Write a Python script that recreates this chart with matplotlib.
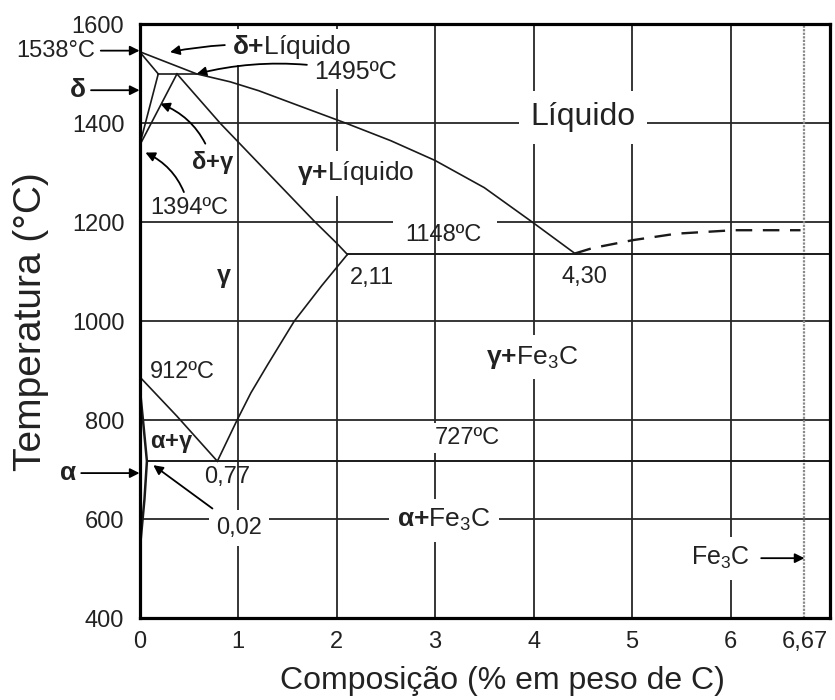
import matplotlib
matplotlib.use('Agg')
import matplotlib.pyplot as plt

plt.rcParams['font.family'] = ['Liberation Sans', 'DejaVu Sans']
plt.rcParams['mathtext.fontset'] = 'custom'
plt.rcParams['mathtext.rm'] = 'Liberation Sans'
plt.rcParams['mathtext.bf'] = 'Liberation Sans:bold'
plt.rcParams['mathtext.it'] = 'Liberation Sans:italic'

# ---------------- data ----------------
liquidus_x = [0.0, 0.58, 0.92, 1.21, 1.60, 2.10, 2.55, 3.00, 3.50, 3.99, 4.42]
liquidus_T = [1545, 1500, 1484, 1466, 1437, 1400, 1365, 1325, 1270, 1200, 1137]
delta_solidus_x = [0.0, 0.19]
delta_solidus_T = [1545, 1500]
peritectic_x = [0.19, 0.58]
peritectic_T = [1500, 1500]
delta_solvus_x = [0.19, 0.0]
delta_solvus_T = [1500, 1355]
gamma_delta_x = [0.38, 0.0]
gamma_delta_T = [1500, 1355]
gamma_solidus_x = [0.38, 0.82, 1.77, 2.00, 2.11]
gamma_solidus_T = [1500, 1400, 1203, 1158, 1135]
acm_x = [2.11, 1.85, 1.57, 1.30, 1.13, 0.99, 0.79]
acm_T = [1135, 1072, 1000, 912, 855, 800, 717]
a3_x = [0.0, 0.38, 0.79]
a3_T = [888, 808, 717]
alpha_x = [0.0, 0.04, 0.075, 0.05, 0.015, 0.0]
alpha_T = [870, 790, 717, 640, 565, 530]
eutectic_x0 = 2.11
eutectic_T = 1135
eutectoid_x0 = 0.075
eutectoid_T = 717
cementite_x = [4.42, 4.60, 5.01, 5.45, 6.03, 6.71]
cementite_T = [1137, 1148, 1164, 1177, 1184, 1184]
fe3c_x = 6.75

x_ticks = [0, 1, 2, 3, 4, 5, 6, fe3c_x]
x_ticklabels = ['0', '1', '2', '3', '4', '5', '6', '6,67']
y_ticks = [400, 600, 800, 1000, 1200, 1400, 1600]
grid_x = [1, 2, 3, 4, 5, 6]
grid_T = [600, 800, 1000, 1200, 1400]
x_max = 7.01

# ---------------- figure ----------------
fig = plt.figure(figsize=(8.35, 7.0), dpi=100)
ax = fig.add_axes([0.1671, 0.1171, 0.827, 0.848])
ax.set_xlim(0, x_max)
ax.set_ylim(400, 1600)

gridc = '#262626'
for gx in grid_x:
    ax.axvline(gx, color=gridc, lw=1.3, zorder=1)
for gt in grid_T:
    if gt == 1200:
        ax.hlines(gt, 0, 2.57, color=gridc, lw=1.3, zorder=1)
        ax.hlines(gt, 3.63, x_max, color=gridc, lw=1.3, zorder=1)
    else:
        ax.axhline(gt, color=gridc, lw=1.3, zorder=1)

ax.axvline(fe3c_x, color='#8a8a8a', lw=1.6, ls=(0, (1, 0.6)), zorder=1)

lc = '#1a1a1a'
lw = 1.2
for xs, ts in [(liquidus_x, liquidus_T), (delta_solidus_x, delta_solidus_T),
               (peritectic_x, peritectic_T), (delta_solvus_x, delta_solvus_T),
               (gamma_delta_x, gamma_delta_T), (gamma_solidus_x, gamma_solidus_T),
               (acm_x, acm_T), (a3_x, a3_T)]:
    ax.plot(xs, ts, color=lc, lw=lw, zorder=4, solid_joinstyle='round')
ax.plot(alpha_x, alpha_T, color=lc, lw=1.8, zorder=4)
ax.hlines(eutectic_T, eutectic_x0, x_max, color=lc, lw=1.4, zorder=4)
ax.hlines(eutectoid_T, eutectoid_x0, x_max, color=lc, lw=1.4, zorder=4)
ax.plot(cementite_x, cementite_T, color=lc, lw=1.7, ls=(0, (7, 4.5)), zorder=4)

for s in ax.spines.values():
    s.set_linewidth(2.3)
    s.set_color('black')
    s.set_zorder(6)

ax.set_xticks(x_ticks)
ax.set_xticklabels(x_ticklabels)
ax.set_yticks(y_ticks)
ax.tick_params(length=0, labelsize=17, pad=9, colors='#222222')
ax.tick_params(axis='y', pad=11)
ax.set_xlabel('Composição (% em peso de C)', fontsize=23, labelpad=10, color='#222222')
ax.xaxis.label.set_x(0.526)
ax.set_ylabel('Temperatura (°C)', fontsize=28, labelpad=16, color='#222222')

wb = dict(fc='white', ec='none', pad=3)
arr = dict(arrowstyle='-|>', color='black', lw=1.3, mutation_scale=14,
           shrinkA=2, shrinkB=0)

def lab(s, x, t, fs=17, bbox=None, **kw):
    ax.text(x, t, s, fontsize=fs, ha='center', va='center', color='#222222',
            bbox=bbox, zorder=3, **kw)

def ann(s, x, t, tx, tt, fs=17, bbox=None, conn='arc3,rad=0', **kw):
    a = dict(arr)
    a['connectionstyle'] = conn
    ax.annotate(s, xy=(tx, tt), xytext=(x, t), fontsize=fs, ha='center', va='center',
                color='#222222', bbox=bbox, arrowprops=a, zorder=3,
                annotation_clip=False, **kw)

lab('Líquido', 4.50, 1412, fs=23, bbox=dict(fc='white', ec='none', pad=8))
ann(r'$\mathbf{δ{+}}$Líquido', 1.54, 1554, 0.31, 1544, fs=19, bbox=wb,
    conn='arc3,rad=0.08')
ann('1495ºC', 2.19, 1503, 0.58, 1500, fs=18, bbox=wb, conn='arc3,rad=0.12')
ann(r'$\mathbf{δ{+}γ}$', 0.74, 1321, 0.21, 1440, fs=17, conn='arc3,rad=0.25')
ann('1394ºC', 0.50, 1228, 0.06, 1341, fs=17, conn='arc3,rad=0.25')
lab(r'$\mathbf{γ{+}}$Líquido', 2.19, 1299, fs=19, bbox=dict(fc='white', ec='none', pad=6))
lab('γ', 0.86, 1091, fs=18, fontweight='bold')
lab('1148ºC', 3.08, 1174, fs=17)
lab('2,11', 2.36, 1088, fs=17)
lab('4,30', 4.52, 1089, fs=17)
lab(r'$\mathbf{γ{+}}$Fe$_3$C', 3.98, 927, fs=19, bbox=dict(fc='white', ec='none', pad=6))
lab('912ºC', 0.43, 897, fs=17)
lab(r'$\mathbf{α{+}γ}$', 0.33, 753, fs=17)
lab('0,77', 0.89, 685, fs=17)
lab('727ºC', 3.33, 764, fs=17, bbox=wb)
ann('0,02', 1.01, 582, 0.14, 709, fs=17, bbox=dict(fc='white', ec='none', pad=5))
lab(r'$\mathbf{α{+}}$Fe$_3$C', 3.09, 598, fs=19, bbox=dict(fc='white', ec='none', pad=6))
ann('Fe$_3$C', 5.90, 521, fe3c_x, 521, fs=18, bbox=dict(fc='white', ec='none', pad=6))

ann('1538°C', -0.85, 1547, 0.0, 1547, fs=17)
ann('δ', -0.63, 1467, 0.0, 1467, fs=19, fontweight='bold')
ann('α', -0.73, 693, 0.0, 693, fs=19, fontweight='bold')

fig.savefig('out.png', dpi=100, facecolor='white')
